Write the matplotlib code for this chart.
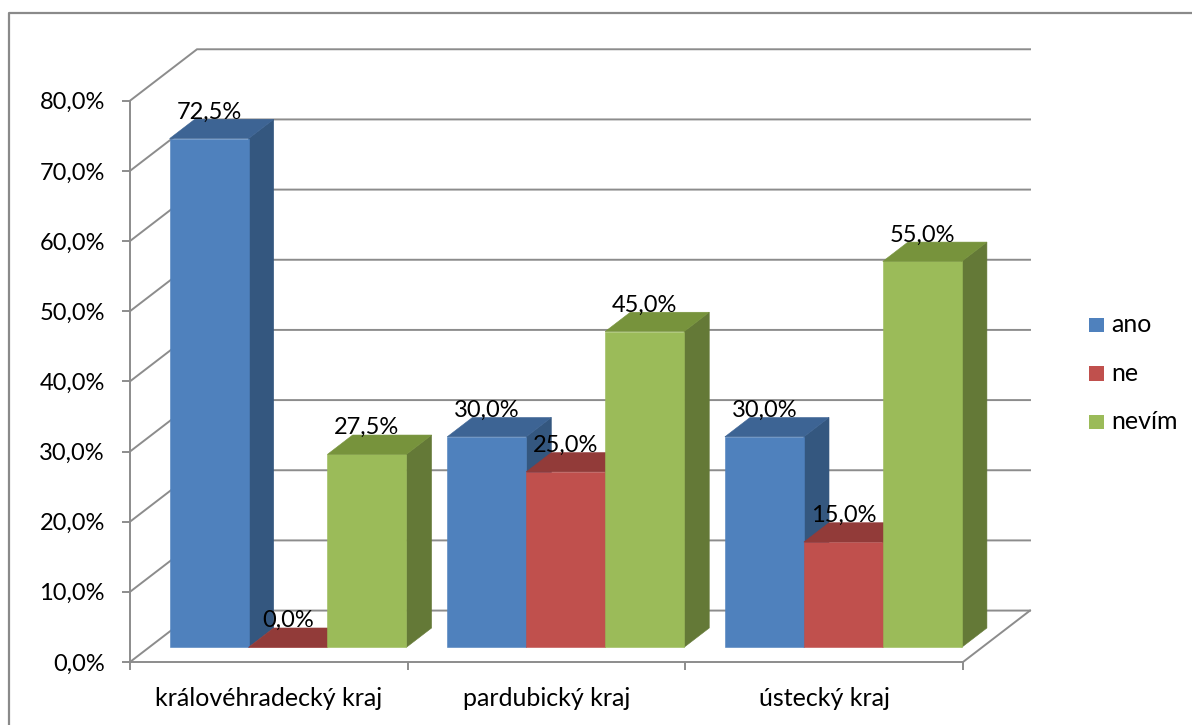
import matplotlib
matplotlib.use("Agg")
import matplotlib.pyplot as plt
from matplotlib.patches import Polygon, Rectangle
from matplotlib.lines import Line2D

regions = ["královéhradecký kraj", "pardubický kraj", "ústecký kraj"]
series = ["ano", "ne", "nevím"]
ano = [72.5, 30.0, 30.0]
ne = [0.0, 25.0, 15.0]
nevim = [27.5, 45.0, 55.0]
y_ticks = [0, 10, 20, 30, 40, 50, 60, 70, 80]

front_colors = ["#4F81BD", "#C0504D", "#9BBB59"]
top_colors = ["#3D6494", "#923B39", "#77933C"]
side_colors = ["#34577F", "#7F3230", "#647937"]
grid_color = "#8C8C8C"

plt.rcParams["font.family"] = ["Lato", "DejaVu Sans"]
fs_num = 17
fs_txt = 18


def pct(v):
    return f"{v:.1f}".replace(".", ",") + "%"


W, H = 1192, 725
fig = plt.figure(figsize=(W / 100, H / 100), dpi=100)
ax = fig.add_axes([130 / W, 1 - 662 / H, 833 / W, 561.3 / H])
ax.set_xlim(0, 3)
ax.set_ylim(0, 80)

# fake 3d: depth vector of the floor, bars sit between f0 and f1 of it
dx, dy = 0.2413, 7.33
f0, f1 = 0.286, 0.6615
gap = 0.147
bw = (1 - gap) / 3
ddx, ddy = (f1 - f0) * dx, (f1 - f0) * dy

# back wall + left wall gridlines
for v in y_ticks:
    ax.plot([0, dx, 3 + dx], [v, v + dy, v + dy], color=grid_color, lw=1.4,
            clip_on=False, zorder=1, solid_joinstyle="miter")
ax.plot([3, 3 + dx], [0, dy], color=grid_color, lw=1.4, clip_on=False, zorder=1)

# bars, left to right so each front face hides the previous side face
z = 3
for k in range(len(regions)):
    for i, vals in enumerate([ano, ne, nevim]):
        h = vals[k]
        x0 = k + gap / 2 + i * bw + f0 * dx
        x1 = x0 + bw
        y0 = f0 * dy
        side = [(x1, y0), (x1 + ddx, y0 + ddy), (x1 + ddx, y0 + h + ddy), (x1, y0 + h)]
        front = [(x0, y0), (x1, y0), (x1, y0 + h), (x0, y0 + h)]
        top = [(x0, y0 + h), (x1, y0 + h), (x1 + ddx, y0 + h + ddy), (x0 + ddx, y0 + h + ddy)]
        for pts, col in [(side, side_colors[i]), (front, front_colors[i]), (top, top_colors[i])]:
            ax.add_patch(Polygon(pts, closed=True, facecolor=col, edgecolor=col,
                                 lw=0.4, clip_on=False, zorder=z))
            z += 1
        ax.text(x0 + bw / 2, y0 + h + ddy + 0.1, pct(h), ha="center", va="baseline",
                fontsize=fs_num, color="black", zorder=200, clip_on=False)

# axes styling
for s in ["top", "right"]:
    ax.spines[s].set_visible(False)
for s in ["left", "bottom"]:
    ax.spines[s].set_color(grid_color)
    ax.spines[s].set_linewidth(1.4)

ax.set_yticks(y_ticks)
ax.set_yticklabels([pct(v) for v in y_ticks])
ax.tick_params(axis="y", length=6, width=1.4, color=grid_color, pad=12,
               labelsize=fs_num, labelcolor="black")

ax.set_xticks([0, 1, 2, 3])
ax.set_xticklabels([])
ax.tick_params(axis="x", which="major", length=6, width=1.4, color=grid_color)
ax.set_xticks([0.5, 1.5, 2.5], minor=True)
ax.set_xticklabels(regions, minor=True)
ax.tick_params(axis="x", which="minor", length=0, pad=18, labelsize=fs_txt,
               labelcolor="black")
ax.set_facecolor("none")

# legend
for i, name in enumerate(series):
    yb = 332.3 + i * 48.5
    fig.add_artist(Rectangle((1089 / W, 1 - yb / H), 15 / W, 14.5 / H,
                             transform=fig.transFigure, facecolor=front_colors[i],
                             edgecolor="none"))
    fig.text(1111 / W, 1 - yb / H, name, fontsize=fs_txt, va="baseline", ha="left")

# chart border
fig.add_artist(Line2D([9 / W, 9 / W, 1], [0, 1 - 13 / H, 1 - 13 / H],
                      transform=fig.transFigure, color="#8A8A8A", lw=1.6))

fig.savefig("out.png", dpi=100)
